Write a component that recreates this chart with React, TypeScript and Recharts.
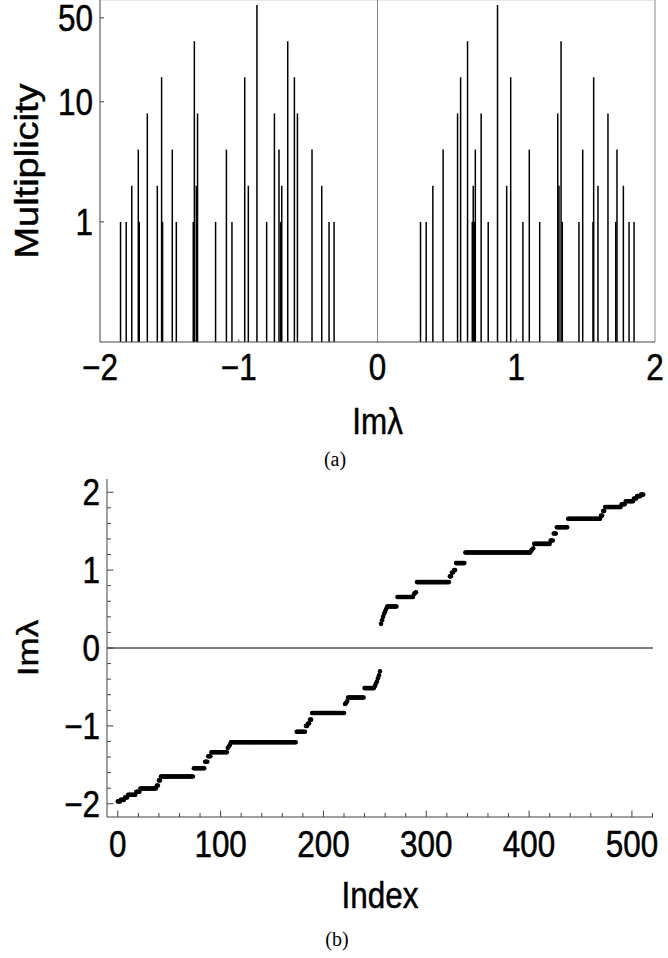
import { ComposedChart, Scatter, XAxis, YAxis, ReferenceLine } from "recharts";

const SANS = "'Liberation Sans', Arial, Helvetica, sans-serif";
const SERIF = "'Liberation Serif', 'DejaVu Serif', serif";
const SQUEEZE = 0.85; // the figure is squeezed horizontally
const FRAME = "#444";
const TICK_FONT = 37;

// (a) positions of the eigenvalue groups on Im(lambda) and their multiplicity
const negImLambda = [
  -1.852, -1.811, -1.771, -1.724, -1.717, -1.659, -1.587, -1.556, -1.549, -1.479, -1.45,
  -1.328, -1.32, -1.306, -1.297, -1.167, -1.089, -1.049, -0.957, -0.931, -0.869, -0.799,
  -0.743, -0.71, -0.698, -0.69, -0.647, -0.599, -0.577, -0.472, -0.402, -0.349, -0.313,
];
const negMult = [
  1, 1, 2, 4, 1, 8, 2, 16, 1, 4, 1, 1, 32, 2, 8, 1, 4, 1, 16, 2, 64, 1, 8, 4, 1, 2, 32, 16, 8,
  4, 2, 1, 1,
];
const posImLambda = [
  0.31, 0.351, 0.399, 0.473, 0.577, 0.599, 0.649, 0.683, 0.69, 0.697, 0.705, 0.747, 0.798,
  0.865, 0.931, 0.96, 1.048, 1.094, 1.169, 1.299, 1.308, 1.323, 1.332, 1.452, 1.479, 1.553,
  1.558, 1.589, 1.661, 1.717, 1.726, 1.772, 1.813, 1.849,
];
const posMult = [
  1, 1, 2, 4, 8, 16, 32, 1, 2, 1, 4, 8, 1, 64, 2, 16, 1, 4, 1, 8, 2, 32, 1, 1, 4, 1, 16, 2, 8,
  1, 4, 2, 1, 1,
];
const multTicks = [1, 10, 50];
const lamTicks = [-2, -1, 0, 1, 2];

// (b) sorted Im(lambda): plateau levels and how many indices sit on each
const negLevels = [
  -1.97, -1.95, -1.92, -1.885, -1.845, -1.805, -1.765, -1.7, -1.65, -1.545, -1.46, -1.39,
  -1.338, -1.285, -1.265, -1.245, -1.21, -1.075, -1.0, -0.97, -0.92, -0.835, -0.72, -0.705,
  -0.685, -0.635, -0.515, -0.49, -0.46, -0.43, -0.39, -0.35, -0.3,
];
const negCounts = [
  3, 4, 3, 8, 4, 16, 2, 2, 32, 11, 3, 3, 16, 1, 1, 1, 64, 9, 2, 2, 2, 32, 1, 1, 1, 16, 10, 1,
  1, 1, 1, 1, 1,
];
const posLevels = [
  0.31, 0.355, 0.4, 0.44, 0.47, 0.5, 0.533, 0.654, 0.69, 0.705, 0.715, 0.846, 0.92, 0.97, 1.0,
  1.09, 1.226, 1.25, 1.265, 1.28, 1.337, 1.38, 1.47, 1.55, 1.66, 1.7, 1.76, 1.81, 1.845, 1.885,
  1.92, 1.95, 1.97,
];
const posCounts = [
  1, 1, 1, 1, 1, 1, 10, 16, 1, 1, 1, 32, 2, 2, 2, 9, 64, 1, 1, 1, 16, 3, 3, 11, 32, 2, 2, 16, 4,
  8, 3, 4, 3,
];
const indexTicks = [0, 100, 200, 300, 400, 500];
const imTicks = [-2, -1, 0, 1, 2];

const bars = [
  ...negImLambda.map((x, k) => ({ x, m: negMult[k] })),
  ...posImLambda.map((x, k) => ({ x, m: posMult[k] })),
];

const points: { i: number; v: number }[] = [];
[...negLevels.map((v, k) => [v, negCounts[k]]), ...posLevels.map((v, k) => [v, posCounts[k]])].forEach(
  ([v, c]) => {
    for (let j = 0; j < c; j++) points.push({ i: points.length, v });
  }
);

// minor frame ticks for (b)
const indexAll = Array.from({ length: 27 }, (_, k) => k * 20);
const imAll = Array.from({ length: 21 }, (_, k) => Math.round((k * 0.2 - 2) * 10) / 10);

const fmt = (v: number) => (v < 0 ? `\u2212${Math.abs(v)}` : String(v));
const has = (list: number[], v: number) => list.some((m) => Math.abs(m - v) < 1e-6);

// slightly heavier glyphs, like the rasterised original
const heavy = { stroke: "#000", strokeWidth: 0.5, paintOrder: "stroke" } as const;

type Side = "left" | "right" | "top" | "bottom";
type TickOpts = {
  long: number[]; // ticks drawn with the long mark
  labels?: number[]; // ticks that carry a label
  majLen: number;
  minLen: number;
  off?: number;
};

function frameTick(side: Side, o: TickOpts) {
  return (p: any) => {
    const x = p.x as number;
    const y = p.y as number;
    const v = p.payload.value as number;
    const len = has(o.long, v) ? o.majLen : o.minLen;
    const dx = side === "left" ? len : side === "right" ? -len : 0;
    const dy = side === "bottom" ? -len : side === "top" ? len : 0;
    let label = null;
    if (o.labels && has(o.labels, v)) {
      if (side === "left") {
        label = (
          <g transform={`translate(${x - (o.off ?? 7)},${y}) scale(${SQUEEZE},1)`}>
            <text textAnchor="end" dy={TICK_FONT * 0.358} fontSize={TICK_FONT} fontFamily={SANS} fill="#000" {...heavy}>
              {fmt(v)}
            </text>
          </g>
        );
      } else if (side === "bottom") {
        label = (
          <g transform={`translate(${x},${y + (o.off ?? 38)}) scale(${SQUEEZE},1)`}>
            <text textAnchor="middle" fontSize={TICK_FONT} fontFamily={SANS} fill="#000" {...heavy}>
              {fmt(v)}
            </text>
          </g>
        );
      }
    }
    return (
      <g>
        {len > 0 && <line x1={x} y1={y} x2={x + dx} y2={y + dy} stroke={FRAME} strokeWidth={1} />}
        {label}
      </g>
    );
  };
}

const dot = (p: any) => <circle cx={p.cx} cy={p.cy} r={2.3} fill="#000" />;
const nothing = () => <g />;

export default function App() {
  return (
    <div
      style={{
        position: "absolute",
        left: 0,
        top: 0,
        width: 668,
        height: 958,
        background: "#fff",
        overflow: "hidden",
      }}
    >
      <div style={{ position: "absolute", left: 0, top: 0 }}>
        <ComposedChart width={668} height={400} margin={{ top: 0, right: 13, bottom: 0, left: 0 }}>
          <XAxis
            type="number"
            dataKey="x"
            domain={[-2, 2]}
            ticks={lamTicks}
            interval={0}
            allowDataOverflow
            height={58}
            tickSize={0}
            tickMargin={0}
            tickLine={false}
            axisLine={{ stroke: FRAME }}
            tick={frameTick("bottom", { long: [-1, 1], labels: lamTicks, majLen: 2.5, minLen: 0, off: 38 })}
          />
          <YAxis
            type="number"
            dataKey="m"
            scale="log"
            domain={[0.1, 70.4]}
            ticks={multTicks}
            interval={0}
            allowDataOverflow
            width={100}
            tickSize={0}
            tickMargin={0}
            tickLine={false}
            axisLine={{ stroke: FRAME }}
            tick={frameTick("left", { long: multTicks, labels: multTicks, majLen: 4, minLen: 0, off: 7 })}
          />
          <ReferenceLine y={70.4} stroke="#d0d0d0" />
          <ReferenceLine x={2} stroke="#888" />
          <ReferenceLine x={0} stroke="#888" />
          {bars.map((b, k) => (
            <ReferenceLine
              key={k}
              segment={[
                { x: b.x, y: 0.1 },
                { x: b.x, y: b.m },
              ]}
              stroke="#000"
              strokeWidth={1.5}
            />
          ))}
          <Scatter data={bars} shape={nothing} isAnimationActive={false} />
        </ComposedChart>
      </div>

      <div style={{ position: "absolute", left: 0, top: 470 }}>
        <ComposedChart width={668} height={420} margin={{ top: 9, right: 15, bottom: 0, left: 0 }}>
          <XAxis
            xAxisId="b"
            orientation="bottom"
            type="number"
            dataKey="i"
            domain={[-10.5, 520.5]}
            ticks={indexAll}
            interval={0}
            allowDataOverflow
            height={73}
            tickSize={0}
            tickMargin={0}
            tickLine={false}
            axisLine={{ stroke: FRAME }}
            tick={frameTick("bottom", { long: indexTicks, labels: indexTicks, majLen: 6.5, minLen: 4, off: 40 })}
          />
          <XAxis
            xAxisId="t"
            orientation="top"
            type="number"
            dataKey="i"
            domain={[-10.5, 520.5]}
            ticks={indexAll}
            interval={0}
            allowDataOverflow
            height={0}
            tickSize={0}
            tickMargin={0}
            tickLine={false}
            axisLine={{ stroke: FRAME }}
            tick={frameTick("top", { long: indexTicks, majLen: 6.5, minLen: 4 })}
          />
          <YAxis
            yAxisId="l"
            orientation="left"
            type="number"
            dataKey="v"
            domain={[-2.17, 2.17]}
            ticks={imAll}
            interval={0}
            allowDataOverflow
            width={107}
            tickSize={0}
            tickMargin={0}
            tickLine={false}
            axisLine={{ stroke: FRAME }}
            tick={frameTick("left", { long: imTicks, labels: imTicks, majLen: 6.5, minLen: 4, off: 7 })}
          />
          <YAxis
            yAxisId="r"
            orientation="right"
            type="number"
            dataKey="v"
            domain={[-2.17, 2.17]}
            ticks={imAll}
            interval={0}
            allowDataOverflow
            width={0}
            tickSize={0}
            tickMargin={0}
            tickLine={false}
            axisLine={{ stroke: FRAME }}
            tick={frameTick("right", { long: imTicks, majLen: 6.5, minLen: 4 })}
          />
          <ReferenceLine xAxisId="b" yAxisId="l" y={0} stroke="#000" />
          <Scatter xAxisId="b" yAxisId="l" data={points} shape={dot} isAnimationActive={false} />
          <Scatter xAxisId="t" yAxisId="r" data={points} shape={nothing} isAnimationActive={false} />
        </ComposedChart>
      </div>

      <svg
        width={668}
        height={958}
        style={{ position: "absolute", left: 0, top: 0, pointerEvents: "none" }}
      >
        <g fontFamily={SANS} fill="#000" {...heavy}>
          <text transform={`translate(37.5,171) scale(${SQUEEZE},1) rotate(-90)`} textAnchor="middle" fontSize={38}>
            Multiplicity
          </text>
          <text transform={`translate(377.7,434) scale(${SQUEEZE},1)`} textAnchor="middle" fontSize={37}>
            Imλ
          </text>
          <text transform={`translate(38,648) scale(${SQUEEZE},1) rotate(-90)`} textAnchor="middle" fontSize={35}>
            Imλ
          </text>
          <text transform={`translate(380,908) scale(${SQUEEZE},1)`} textAnchor="middle" fontSize={37}>
            Index
          </text>
        </g>
        <g fontFamily={SERIF} fill="#000" fontSize={20} textAnchor="middle">
          <text x={335} y={466}>
            (a)
          </text>
          <text x={337} y={946}>
            (b)
          </text>
        </g>
      </svg>
    </div>
  );
}
